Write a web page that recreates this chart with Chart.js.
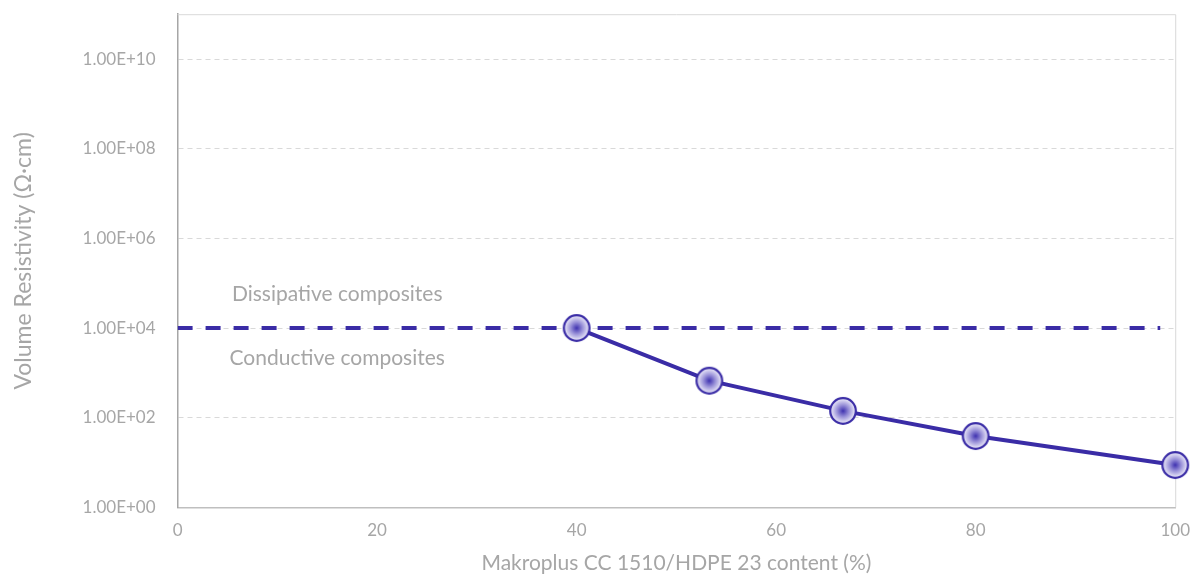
<!DOCTYPE html>
<html>
<head>
<meta charset="utf-8">
<script src="https://cdn.jsdelivr.net/npm/chart.js@4/dist/chart.umd.min.js"></script>
<style>
  html, body { margin: 0; padding: 0; background: #fff; }
  #wrap { width: 1195px; height: 576px; }
</style>
</head>
<body>
<div id="wrap"><canvas id="chart"></canvas></div>
<script>
// data
const contentPct = [40, 53.3, 66.7, 80, 100];
const resistivity = [1.0e4, 6.7e2, 1.42e2, 3.9e1, 8.8];
const thresholdX = [0, 98.5];
const thresholdY = [1e4, 1e4];
const yTicks = [1e0, 1e2, 1e4, 1e6, 1e8, 1e10];
const zoneLabels = ['Dissipative composites', 'Conductive composites'];
const zoneLabelX = [16, 16];
const zoneLabelY = [Math.pow(10, 4.76), Math.pow(10, 3.32)];

const blue = '#3a2ca6';
const grey = '#a6a6a6';

// marker with radial shading
function makeMarker() {
    const c = document.createElement('canvas');
    c.width = 30; c.height = 30;
    const g = c.getContext('2d');
    const grad = g.createRadialGradient(15, 15, 0, 15, 15, 13);
    grad.addColorStop(0, '#3f32b0');
    grad.addColorStop(0.45, '#9890d8');
    grad.addColorStop(1, '#f6f5fd');
    g.beginPath();
    g.arc(15, 15, 12.8, 0, Math.PI * 2);
    g.fillStyle = grad;
    g.fill();
    g.lineWidth = 2.2;
    g.strokeStyle = blue;
    g.stroke();
    return c;
}
const marker = makeMarker();

function fmtExp(v) {
    const p = Math.round(Math.log10(v));
    return '1.00E+' + (p < 10 ? '0' + p : p);
}

const framePlugin = {
    id: 'frame',
    beforeDatasetsDraw(chart) {
        const { ctx, chartArea: a } = chart;
        ctx.save();
        ctx.strokeStyle = '#d9d9d9';
        ctx.lineWidth = 1;
        ctx.beginPath();
        ctx.moveTo(a.left, a.top + 0.5);
        ctx.lineTo(a.right + 0.5, a.top + 0.5);
        ctx.lineTo(a.right + 0.5, a.bottom);
        ctx.stroke();
        ctx.restore();
    },
    afterDatasetsDraw(chart) {
        const { ctx, scales } = chart;
        ctx.save();
        ctx.font = '21px Lato';
        ctx.fillStyle = grey;
        ctx.textAlign = 'center';
        ctx.textBaseline = 'middle';
        zoneLabels.forEach((t, i) => {
            ctx.fillText(t, scales.x.getPixelForValue(zoneLabelX[i]), scales.y.getPixelForValue(zoneLabelY[i]));
        });
        ctx.restore();
    }
};

new Chart(document.getElementById('chart'), {
    type: 'scatter',
    data: {
        datasets: [{
            data: thresholdX.map((x, i) => ({ x: x, y: thresholdY[i] })),
            showLine: true,
            borderColor: blue,
            borderWidth: 4,
            borderDash: [15, 13],
            pointRadius: 0,
            order: 2
        }, {
            data: contentPct.map((x, i) => ({ x: x, y: resistivity[i] })),
            showLine: true,
            borderColor: blue,
            borderWidth: 4,
            pointStyle: marker,
            pointRadius: 13,
            clip: false,
            order: 1
        }]
    },
    options: {
        responsive: true,
        maintainAspectRatio: false,
        animation: false,
        layout: { autoPadding: false, padding: { top: 14, right: 16, left: 10, bottom: 0 } },
        plugins: { legend: { display: false }, tooltip: { enabled: false } },
        events: [],
        scales: {
            x: {
                type: 'linear',
                min: 0,
                max: 100,
                ticks: { stepSize: 20, color: grey, font: { family: 'Lato', size: 17 }, padding: 5 },
                grid: { display: false },
                border: { color: '#bfbfbf', width: 1.5 },
                title: {
                    display: true,
                    text: 'Makroplus CC 1510/HDPE 23 content (%)',
                    color: grey,
                    font: { family: 'Lato', size: 21 },
                    padding: { top: 5, bottom: 0 }
                }
            },
            y: {
                type: 'logarithmic',
                min: 1,
                max: 1e11,
                afterBuildTicks(axis) {
                    axis.ticks = yTicks.map(v => ({ value: v }));
                },
                ticks: { color: grey, font: { family: 'Lato', size: 17 }, padding: 4, callback: v => fmtExp(v) },
                grid: { color: '#d9d9d9', drawTicks: true, tickLength: 18, tickColor: 'rgba(0,0,0,0)', lineWidth: 1 },
                border: { color: '#a6a6a6', width: 1.5, dash: [5, 4] },
                title: {
                    display: true,
                    text: 'Volume Resistivity (Ω·cm)',
                    color: grey,
                    font: { family: 'Lato', size: 23 },
                    padding: { top: 0, bottom: 41 }
                }
            }
        }
    },
    plugins: [framePlugin]
});
</script>
</body>
</html>
